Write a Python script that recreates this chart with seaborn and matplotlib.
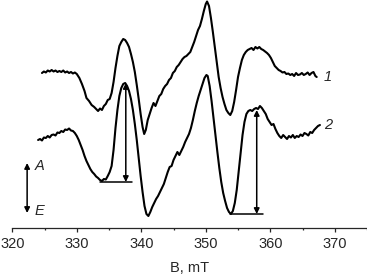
import matplotlib
matplotlib.use("Agg")
import matplotlib.pyplot as plt
import seaborn as sns
import pandas as pd
from matplotlib.ticker import MultipleLocator

# ---- data (field B in mT, signal in arbitrary units; larger value = lower on the page) ----
b1 = [324.6, 324.9, 325.2, 325.5, 325.8, 326.1, 326.4, 326.7, 327.0, 327.3, 327.6, 327.9, 328.2, 328.5,
      328.8, 329.1, 329.4, 329.7, 330.0, 330.4, 330.8, 331.2, 331.5, 331.9, 332.3, 332.7, 333.0, 333.3,
      333.6, 333.9, 334.2, 334.5, 334.8, 335.1, 335.4, 335.7, 336.0, 336.3, 336.6, 336.9, 337.2, 337.5,
      337.8, 338.1, 338.4, 338.7, 339.0, 339.3, 339.6, 339.9, 340.2, 340.45, 340.7, 341.0, 341.3, 341.6,
      341.9, 342.2, 342.5, 342.8, 343.1, 343.4, 343.7, 344.0, 344.3, 344.6, 344.9, 345.2, 345.5, 345.8,
      346.1, 346.4, 346.7, 347.0, 347.3, 347.6, 347.9, 348.2, 348.5, 348.8, 349.1, 349.4, 349.7, 350.0,
      350.2, 350.5, 350.8, 351.1, 351.4, 351.7, 352.0, 352.3, 352.6, 352.9, 353.2, 353.5, 353.8, 354.1,
      354.4, 354.7, 355.0, 355.3, 355.6, 355.9, 356.2, 356.5, 356.8, 357.1, 357.4, 357.7, 358.0, 358.3,
      358.6, 358.9, 359.2, 359.5, 359.8, 360.1, 360.4, 360.7, 361.0, 361.3, 361.6, 361.9, 362.2, 362.5,
      362.8, 363.1, 363.4, 363.7, 364.0, 364.3, 364.6, 364.9, 365.2, 365.5, 365.8, 366.1, 366.4, 366.7,
      367.0, 367.2]
s1 = [73, 71.5, 72.5, 70.5, 71.5, 70, 71.5, 70.5, 72, 71, 72, 70.5, 72.5, 71.5,
      73, 72, 73.5, 72.5, 74, 78, 84, 91, 98, 101, 105, 107, 109, 111,
      108.5, 110, 106, 104, 100, 99, 93, 82, 68, 56, 46, 42, 39, 40,
      43, 47, 54, 62, 72, 85, 99, 114, 127, 134, 130, 120, 114, 108,
      103, 106, 101, 96, 94, 89, 86, 84, 80, 78, 73, 71, 67, 65,
      62, 59, 57, 56, 54, 52, 47, 42, 36, 30, 26, 19, 11, 4,
      1.5, 6, 18, 32, 47, 62, 77, 88, 97, 104, 110, 113, 115, 111,
      102, 90, 77, 68, 60, 55, 52, 50, 49, 48, 50, 47, 48.5, 47,
      49, 50, 51.5, 53, 55, 58, 62, 66, 68, 70, 71, 72.5, 72, 74,
      73.5, 75, 74, 76, 73, 75, 74.5, 73, 75, 74, 72.5, 75, 73, 72,
      76, 77]

b2 = [324.0, 324.3, 324.6, 324.9, 325.2, 325.5, 325.8, 326.1, 326.4, 326.7, 327.0, 327.3, 327.6, 327.9,
      328.2, 328.5, 328.8, 329.1, 329.4, 329.7, 330.0, 330.3, 330.6, 330.9, 331.2, 331.5, 331.8, 332.1,
      332.4, 332.7, 333.0, 333.3, 333.6, 333.9, 334.2, 334.5, 334.8, 335.1, 335.4, 335.7, 336.0, 336.3,
      336.6, 336.9, 337.2, 337.5, 337.8, 338.1, 338.4, 338.7, 339.0, 339.3, 339.6, 339.9, 340.2, 340.5,
      340.8, 341.1, 341.4, 341.7, 342.0, 342.3, 342.6, 342.9, 343.2, 343.5, 343.8, 344.1, 344.4, 344.7,
      345.0, 345.3, 345.6, 345.9, 346.2, 346.5, 346.8, 347.1, 347.4, 347.7, 348.0, 348.3, 348.6, 348.9,
      349.2, 349.5, 349.8, 350.1, 350.3, 350.6, 350.9, 351.2, 351.5, 351.8, 352.1, 352.4, 352.7, 353.0,
      353.3, 353.6, 353.9, 354.2, 354.5, 354.8, 355.1, 355.4, 355.7, 356.0, 356.3, 356.6, 356.9, 357.2,
      357.5, 357.8, 358.1, 358.4, 358.7, 359.0, 359.3, 359.6, 359.9, 360.2, 360.5, 360.8, 361.1, 361.4,
      361.7, 362.0, 362.3, 362.6, 362.9, 363.2, 363.5, 363.8, 364.1, 364.4, 364.7, 365.0, 365.3, 365.6,
      365.9, 366.2, 366.5, 366.8, 367.1, 367.4, 367.7]
s2 = [140, 139, 140.5, 137.5, 138, 136, 137.5, 135, 134.5, 135.5, 132.5, 133, 131, 132,
      129.5, 130, 128.5, 130.5, 131, 133, 136, 140, 145, 150, 156, 161, 165, 169,
      172, 174, 176.5, 178, 180, 181, 179, 179.5, 176, 172, 166, 150, 128, 110,
      96, 88, 84, 83, 86, 91, 99, 110, 124, 140, 158, 176, 192, 206,
      214, 216, 212, 207, 203, 199, 196, 192, 188, 184, 178, 172, 167, 166,
      160, 156, 152, 155, 151, 147, 142, 138, 134, 128, 120, 111, 103, 96,
      90, 84, 78, 75, 76, 86, 101, 118, 135, 152, 168, 182, 193, 201,
      208, 212, 214, 211, 203, 190, 172, 153, 135, 122, 114, 111, 110, 111,
      109, 108, 109, 106, 108, 111, 114, 119, 122, 125, 124, 129, 133, 136,
      138, 135, 137, 139, 136, 137.5, 135, 138, 136, 137, 134.5, 136, 133, 134,
      135.5, 132, 133, 130, 128, 126, 125]

tick_values = [320, 330, 340, 350, 360, 370]
curve_labels = ["1", "2"]

df = pd.concat([
    pd.DataFrame({"B": b1, "signal": s1, "curve": "1"}),
    pd.DataFrame({"B": b2, "signal": s2, "curve": "2"}),
])

sns.set_style("ticks")
plt.rcParams['font.family'] = ['Liberation Sans', 'DejaVu Sans']

fig = plt.figure(figsize=(3.67, 2.79), dpi=100)
fig.patch.set_facecolor("white")
ax = fig.add_axes([12.3 / 367, 51 / 279, 354.7 / 367, 228 / 279])

sns.lineplot(data=df, x="B", y="signal", units="curve", estimator=None, sort=False,
             color="black", lw=1.5, ax=ax, legend=False)

ax.set_xlim(320, 375)
ax.set_ylim(228, 0)
ax.set_yticks([])
ax.set_ylabel("")
for side in ("left", "top", "right"):
    ax.spines[side].set_visible(False)
ax.spines["bottom"].set_linewidth(0.9)
ax.set_xticks(tick_values)
ax.set_xticklabels([str(t) for t in tick_values])
ax.xaxis.set_minor_locator(MultipleLocator(5))
ax.tick_params(axis="x", which="major", direction="out", length=3, width=0.9, pad=3.5, labelsize=10.5)
ax.tick_params(axis="x", which="minor", direction="out", length=1.6, width=0.9)
ax.set_xlabel("B, mT", fontsize=10.5, labelpad=7.5)

# curve numbers
ax.text(368.2, 77, curve_labels[0], fontsize=10.5, style="italic", va="center", ha="left")
ax.text(368.3, 125, curve_labels[1], fontsize=10.5, style="italic", va="center", ha="left")

arrow = dict(arrowstyle="<|-|>", color="black", lw=1.1, shrinkA=0, shrinkB=0, mutation_scale=8)
# amplitude arrows
ax.annotate("", xy=(337.6, 83), xytext=(337.6, 182), arrowprops=arrow)
ax.plot([333.6, 338.55], [182, 182], color="black", lw=1.1)
ax.annotate("", xy=(357.9, 110), xytext=(357.9, 214), arrowprops=arrow)
ax.plot([353.7, 358.9], [214, 214], color="black", lw=1.1)
# A / E arrow
ax.annotate("", xy=(322.3, 163), xytext=(322.3, 213), arrowprops=arrow)
ax.text(323.4, 166, "A", fontsize=10.5, style="italic", va="center", ha="left")
ax.text(323.4, 211, "E", fontsize=10.5, style="italic", va="center", ha="left")

fig.savefig("out.png", dpi=100, facecolor="white")
